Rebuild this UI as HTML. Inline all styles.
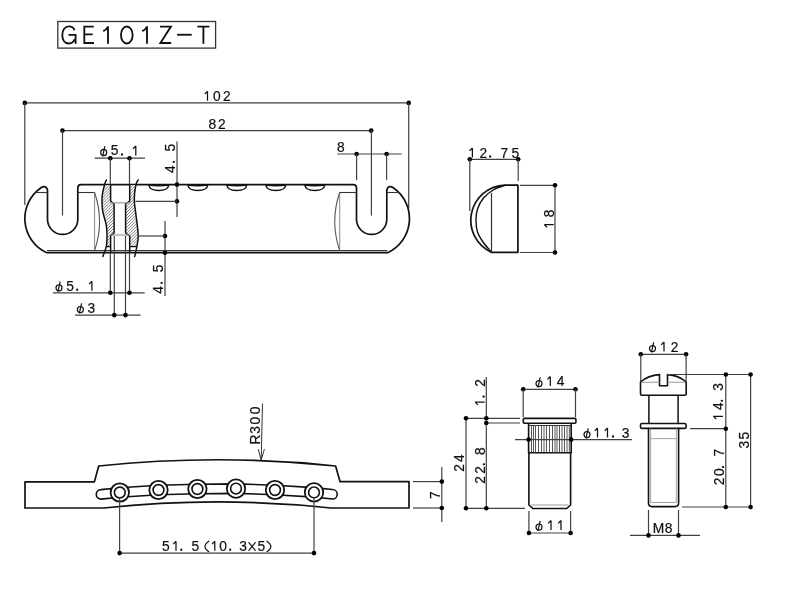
<!DOCTYPE html>
<html><head><meta charset="utf-8"><style>
html,body{margin:0;padding:0;background:#fff;}
svg{display:block;will-change:transform;}
text{stroke:#111;stroke-width:0.2px;}
</style></head><body>
<svg width="800" height="600" viewBox="0 0 800 600">
<rect width="800" height="600" fill="#fff"/>
<g font-family="Liberation Sans" fill="#111">
<rect x="57.8" y="21.5" width="157.8" height="26.6" fill="none" stroke="#333" stroke-width="1.3"/>
<g fill="none" stroke="#111" stroke-width="1.85" stroke-linecap="butt" stroke-linejoin="miter">
<path d="M 74.6 30.3 C 73.6 27.8 71.6 26.4 68.9 26.4 C 64.6 26.4 62.3 30.4 62.3 35.1 C 62.3 39.9 64.7 43.5 68.9 43.5 C 71.8 43.5 73.8 41.6 74.6 39.3"/>
<path d="M 68.5 34.9 L 75.6 34.9 L 75.6 43.8"/>
<path d="M 93.8 26.6 L 84.3 26.6 L 84.3 43.0 L 94.0 43.0 M 84.3 34.3 L 92.6 34.3"/>
<path d="M 108.0 26.2 L 108.0 43.8 M 108.0 26.6 C 106.9 29.0 105.3 30.3 103.2 31.2"/>
<ellipse cx="126.8" cy="34.95" rx="5.85" ry="8.5"/>
<path d="M 147.0 26.2 L 147.0 43.8 M 147.0 26.6 C 145.9 29.0 144.3 30.3 142.2 31.2"/>
<path d="M 160.0 26.6 L 170.9 26.6 L 160.4 43.0 L 171.2 43.0"/>
<path d="M 177.1 34.75 L 191.75 34.75"/>
<path d="M 197.4 26.6 L 209.4 26.6 M 203.4 26.6 L 203.4 43.8"/>
</g>
<line x1="24.8" y1="102.9" x2="408.7" y2="102.9" stroke="#404040" stroke-width="1.2"/>
<circle cx="24.8" cy="102.9" r="2.3" fill="#000"/>
<circle cx="408.7" cy="102.9" r="2.3" fill="#000"/>
<line x1="24.8" y1="102.9" x2="24.8" y2="205" stroke="#404040" stroke-width="1.2"/>
<line x1="408.7" y1="102.9" x2="408.7" y2="208.5" stroke="#404040" stroke-width="1.2"/>
<g transform="translate(206.50,100.70)"><path d="M 1.0 -9.50 L 1.0 0 M 1.0 -9.50 L -1.8 -6.60" stroke="#111" stroke-width="1.25" fill="none"/></g>
<text transform="translate(213.06,100.70) scale(1.0,1)" font-size="13.8">0</text>
<text transform="translate(223.06,100.70) scale(1.0,1)" font-size="13.8">2</text>
<line x1="62.5" y1="130.6" x2="371.2" y2="130.6" stroke="#404040" stroke-width="1.2"/>
<circle cx="62.5" cy="130.6" r="2.3" fill="#000"/>
<circle cx="371.2" cy="130.6" r="2.3" fill="#000"/>
<line x1="62.5" y1="130.6" x2="62.5" y2="215.5" stroke="#404040" stroke-width="1.2"/>
<line x1="371.4" y1="130.6" x2="371.4" y2="215.5" stroke="#404040" stroke-width="1.2"/>
<text transform="translate(208.46,128.75) scale(1.0,1)" font-size="13.8">8</text>
<text transform="translate(218.06,128.75) scale(1.0,1)" font-size="13.8">2</text>
<path d="M 217.15 252.7 L 46.7 252.7 A 37.5 37.5 0 0 1 41.0 187.8 C 43.3 186.2 46.3 185.6 47.5 190 L 47.5 219.3 A 15.15 15.15 0 0 0 77.8 219.3 L 77.8 188 Q 77.8 184.6 81.2 184.6 L 353.1 184.6 Q 356.5 184.6 356.5 188 L 356.5 219.3 A 15.15 15.15 0 0 0 386.8 219.3 L 386.8 190 C 388.0 185.6 391.0 186.2 393.3 187.8 A 37.5 37.5 0 0 1 387.6 252.7 Z" stroke="#111" stroke-width="1.7" fill="none" stroke-linejoin="round" stroke-linecap="round" />
<line x1="47" y1="250.6" x2="387.3" y2="250.6" stroke="#222" stroke-width="1.0"/>
<line x1="35.5" y1="192.5" x2="47.5" y2="192.5" stroke="#333" stroke-width="1.1"/>
<line x1="77.8" y1="192.5" x2="94.6" y2="192.5" stroke="#333" stroke-width="1.1"/>
<line x1="339.7" y1="192.5" x2="356.5" y2="192.5" stroke="#333" stroke-width="1.1"/>
<line x1="386.8" y1="192.5" x2="398.8" y2="192.5" stroke="#333" stroke-width="1.1"/>
<line x1="94.6" y1="192.5" x2="94.6" y2="250.6" stroke="#888" stroke-width="1.0"/>
<path d="M 94.6 192.5 Q 104.5 221.5 94.6 250.6" stroke="#555" stroke-width="1.1" fill="none" stroke-linejoin="round" stroke-linecap="round" />
<line x1="339.7" y1="192.5" x2="339.7" y2="250.6" stroke="#888" stroke-width="1.0"/>
<path d="M 339.7 192.5 Q 329.8 221.5 339.7 250.6" stroke="#555" stroke-width="1.1" fill="none" stroke-linejoin="round" stroke-linecap="round" />
<path d="M 148.8 185.0 Q 158.8 186.4 168.8 185.0 C 168.3 188.8 164.8 190.5 158.8 190.5 C 152.8 190.5 149.3 188.8 148.8 185.0 Z" stroke="#111" stroke-width="1.4" fill="none" stroke-linejoin="round" stroke-linecap="round" />
<path d="M 187.8 185.0 Q 197.8 186.4 207.8 185.0 C 207.3 188.8 203.8 190.5 197.8 190.5 C 191.8 190.5 188.3 188.8 187.8 185.0 Z" stroke="#111" stroke-width="1.4" fill="none" stroke-linejoin="round" stroke-linecap="round" />
<path d="M 226.8 185.0 Q 236.8 186.4 246.8 185.0 C 246.3 188.8 242.8 190.5 236.8 190.5 C 230.8 190.5 227.3 188.8 226.8 185.0 Z" stroke="#111" stroke-width="1.4" fill="none" stroke-linejoin="round" stroke-linecap="round" />
<path d="M 265.8 185.0 Q 275.8 186.4 285.8 185.0 C 285.3 188.8 281.8 190.5 275.8 190.5 C 269.8 190.5 266.3 188.8 265.8 185.0 Z" stroke="#111" stroke-width="1.4" fill="none" stroke-linejoin="round" stroke-linecap="round" />
<path d="M 304.8 185.0 Q 314.8 186.4 324.8 185.0 C 324.3 188.8 320.8 190.5 314.8 190.5 C 308.8 190.5 305.3 188.8 304.8 185.0 Z" stroke="#111" stroke-width="1.4" fill="none" stroke-linejoin="round" stroke-linecap="round" />
<defs><pattern id="hp" patternUnits="userSpaceOnUse" width="2.1" height="2.1" patternTransform="rotate(45)"><rect width="2.1" height="2.1" fill="#fff"/><line x1="0" y1="0" x2="0" y2="2.1" stroke="#444" stroke-width="0.95"/></pattern></defs>
<clipPath id="hc"><rect x="90" y="185" width="60" height="61.5"/></clipPath>
<g clip-path="url(#hc)"><path d="M 106.3 180 C 106.00 180.83 105.18 182.33 104.5 185 C 103.82 187.67 102.52 191.75 102.2 196 C 101.88 200.25 101.93 205.73 102.6 210.5 C 103.27 215.27 105.47 220.60 106.2 224.6 C 106.93 228.60 106.98 230.85 107 234.5 C 107.02 238.15 107.00 242.85 106.3 246.5 C 105.60 250.15 103.38 254.75 102.8 256.4 L 110.6 256.4 L 110.6 236 L 114.1 233 L 114.1 204 L 110.6 201.2 L 110.6 180 Z" fill="url(#hp)"/><path d="M 138.2 180 C 137.80 180.83 136.45 181.67 135.8 185 C 135.15 188.33 134.27 195.00 134.3 200 C 134.33 205.00 135.35 209.17 136 215 C 136.65 220.83 138.07 229.67 138.2 235 C 138.33 240.33 137.38 243.43 136.8 247 C 136.22 250.57 135.05 254.83 134.7 256.4 L 129.7 256.4 L 129.7 236 L 125.6 233 L 125.6 204 L 129.7 201.2 L 129.7 180 Z" fill="url(#hp)"/></g>
<path d="M 106.3 180 C 106.00 180.83 105.18 182.33 104.5 185 C 103.82 187.67 102.52 191.75 102.2 196 C 101.88 200.25 101.93 205.73 102.6 210.5 C 103.27 215.27 105.47 220.60 106.2 224.6 C 106.93 228.60 106.98 230.85 107 234.5 C 107.02 238.15 107.00 242.85 106.3 246.5 C 105.60 250.15 103.38 254.75 102.8 256.4" stroke="#111" stroke-width="1.5" fill="none" stroke-linejoin="round" stroke-linecap="round" />
<path d="M 138.2 180 C 137.80 180.83 136.45 181.67 135.8 185 C 135.15 188.33 134.27 195.00 134.3 200 C 134.33 205.00 135.35 209.17 136 215 C 136.65 220.83 138.07 229.67 138.2 235 C 138.33 240.33 137.38 243.43 136.8 247 C 136.22 250.57 135.05 254.83 134.7 256.4" stroke="#111" stroke-width="1.5" fill="none" stroke-linejoin="round" stroke-linecap="round" />
<path d="M 110.6 185 L 110.6 201.2 L 114.1 204 L 114.1 233 L 110.6 236 L 110.6 252.7" stroke="#111" stroke-width="1.5" fill="none" stroke-linejoin="round" stroke-linecap="round" />
<path d="M 129.7 185 L 129.7 201.2 L 125.6 204 L 125.6 233 L 129.7 236 L 129.7 252.7" stroke="#111" stroke-width="1.5" fill="none" stroke-linejoin="round" stroke-linecap="round" />
<line x1="106.5" y1="246.6" x2="110.6" y2="246.6" stroke="#111" stroke-width="1.3"/>
<line x1="129.7" y1="246.6" x2="136.7" y2="246.6" stroke="#111" stroke-width="1.3"/>
<line x1="110.6" y1="202.8" x2="129.7" y2="202.8" stroke="#999" stroke-width="1.2"/>
<line x1="110.6" y1="235" x2="129.7" y2="235" stroke="#999" stroke-width="1.2"/>
<line x1="94.5" y1="158.2" x2="145" y2="158.2" stroke="#404040" stroke-width="1.2"/>
<circle cx="110.3" cy="158.2" r="2.3" fill="#000"/>
<circle cx="129.5" cy="158.2" r="2.3" fill="#000"/>
<line x1="110.3" y1="158.2" x2="110.3" y2="184" stroke="#404040" stroke-width="1.2"/>
<line x1="129.5" y1="158.2" x2="129.5" y2="184" stroke="#404040" stroke-width="1.2"/>
<ellipse cx="103.70" cy="152.50" rx="3.0" ry="3.1" fill="none" stroke="#111" stroke-width="1.2"/>
<line x1="104.90" y1="146.20" x2="102.60" y2="156.30" stroke="#111" stroke-width="1.2"/>
<text transform="translate(110.78,155.40) scale(1.0,1)" font-size="13.8">5</text>
<ellipse cx="122.00" cy="154.40" rx="1.05" ry="1.25" fill="#111"/>
<g transform="translate(134.80,155.40)"><path d="M 1.0 -9.50 L 1.0 0 M 1.0 -9.50 L -1.8 -6.60" stroke="#111" stroke-width="1.25" fill="none"/></g>
<line x1="177" y1="141.6" x2="177" y2="217" stroke="#404040" stroke-width="1.2"/>
<circle cx="177" cy="184.6" r="2.3" fill="#000"/>
<circle cx="177" cy="201.3" r="2.3" fill="#000"/>
<line x1="135.5" y1="201.3" x2="177" y2="201.3" stroke="#404040" stroke-width="1.2"/>
<text transform="translate(174.70,169.20) rotate(-90) translate(-3.79,0) scale(1.0,1)" font-size="13.8">4</text>
<ellipse cx="173.70" cy="162.00" rx="1.25" ry="1.05" fill="#111"/>
<text transform="translate(174.70,147.70) rotate(-90) translate(-3.82,0) scale(1.0,1)" font-size="13.8">5</text>
<line x1="165" y1="221" x2="165" y2="296" stroke="#404040" stroke-width="1.2"/>
<circle cx="165" cy="236" r="2.3" fill="#000"/>
<circle cx="165" cy="252.7" r="2.3" fill="#000"/>
<line x1="137.5" y1="236" x2="165" y2="236" stroke="#404040" stroke-width="1.2"/>
<text transform="translate(162.60,290.00) rotate(-90) translate(-3.79,0) scale(1.0,1)" font-size="13.8">4</text>
<ellipse cx="161.60" cy="283.00" rx="1.25" ry="1.05" fill="#111"/>
<text transform="translate(162.60,268.50) rotate(-90) translate(-3.82,0) scale(1.0,1)" font-size="13.8">5</text>
<line x1="110.3" y1="252.7" x2="110.3" y2="292.8" stroke="#404040" stroke-width="1.2"/>
<line x1="129.5" y1="252.7" x2="129.5" y2="292.8" stroke="#404040" stroke-width="1.2"/>
<line x1="53" y1="292.8" x2="144.7" y2="292.8" stroke="#404040" stroke-width="1.2"/>
<circle cx="110.3" cy="292.8" r="2.3" fill="#000"/>
<circle cx="129.5" cy="292.8" r="2.3" fill="#000"/>
<ellipse cx="59.00" cy="287.85" rx="3.0" ry="3.1" fill="none" stroke="#111" stroke-width="1.2"/>
<line x1="60.20" y1="281.55" x2="57.90" y2="291.65" stroke="#111" stroke-width="1.2"/>
<text transform="translate(66.28,290.75) scale(1.0,1)" font-size="13.8">5</text>
<ellipse cx="77.20" cy="289.75" rx="1.05" ry="1.25" fill="#111"/>
<g transform="translate(90.90,290.75)"><path d="M 1.0 -9.50 L 1.0 0 M 1.0 -9.50 L -1.8 -6.60" stroke="#111" stroke-width="1.25" fill="none"/></g>
<line x1="114.3" y1="236" x2="114.3" y2="315.1" stroke="#404040" stroke-width="1.2"/>
<line x1="125.5" y1="236" x2="125.5" y2="315.1" stroke="#404040" stroke-width="1.2"/>
<line x1="75" y1="315.1" x2="140.6" y2="315.1" stroke="#404040" stroke-width="1.2"/>
<circle cx="114.3" cy="315.1" r="2.3" fill="#000"/>
<circle cx="125.5" cy="315.1" r="2.3" fill="#000"/>
<ellipse cx="80.40" cy="309.60" rx="3.0" ry="3.1" fill="none" stroke="#111" stroke-width="1.2"/>
<line x1="81.60" y1="303.30" x2="79.30" y2="313.40" stroke="#111" stroke-width="1.2"/>
<text transform="translate(87.60,312.50) scale(1.0,1)" font-size="13.8">3</text>
<line x1="337.2" y1="154" x2="401.7" y2="154" stroke="#404040" stroke-width="1.2"/>
<circle cx="356.6" cy="154" r="2.3" fill="#000"/>
<circle cx="386.6" cy="154" r="2.3" fill="#000"/>
<line x1="356.6" y1="154" x2="356.6" y2="180" stroke="#404040" stroke-width="1.2"/>
<line x1="386.6" y1="154" x2="386.6" y2="180" stroke="#404040" stroke-width="1.2"/>
<text transform="translate(336.96,151.70) scale(1.0,1)" font-size="13.8">8</text>
<line x1="469.8" y1="159.3" x2="518.2" y2="159.3" stroke="#404040" stroke-width="1.2"/>
<circle cx="469.8" cy="159.3" r="2.3" fill="#000"/>
<circle cx="518.2" cy="159.3" r="2.3" fill="#000"/>
<line x1="469.8" y1="159.3" x2="469.8" y2="211" stroke="#404040" stroke-width="1.2"/>
<line x1="518.2" y1="159.3" x2="518.2" y2="181" stroke="#404040" stroke-width="1.2"/>
<g transform="translate(471.40,157.50)"><path d="M 1.0 -9.50 L 1.0 0 M 1.0 -9.50 L -1.8 -6.60" stroke="#111" stroke-width="1.25" fill="none"/></g>
<text transform="translate(479.56,157.50) scale(1.0,1)" font-size="13.8">2</text>
<ellipse cx="490.20" cy="156.50" rx="1.05" ry="1.25" fill="#111"/>
<text transform="translate(500.46,157.50) scale(1.0,1)" font-size="13.8">7</text>
<text transform="translate(511.38,157.50) scale(1.0,1)" font-size="13.8">5</text>
<path d="M 505 185.1 L 517.9 185.1 L 517.9 252.4 L 491.6 252.4 A 35.2 35.2 0 0 1 505 185.1 Z" stroke="#111" stroke-width="1.7" fill="none" stroke-linejoin="round" stroke-linecap="round" />
<path d="M 505 185.3 C 503.17 186.00 497.58 187.38 494 189.5 C 490.42 191.62 486.25 194.75 483.5 198 C 480.75 201.25 478.75 205.33 477.5 209 C 476.25 212.67 476.00 216.17 476 220 C 476.00 223.83 476.33 228.33 477.5 232 C 478.67 235.67 480.65 238.60 483 242 C 485.35 245.40 490.17 250.67 491.6 252.4" stroke="#111" stroke-width="1.4" fill="none" stroke-linejoin="round" stroke-linecap="round" />
<line x1="491.5" y1="193" x2="491.5" y2="252.5" stroke="#333" stroke-width="1.2"/>
<line x1="520" y1="185.3" x2="555" y2="185.3" stroke="#404040" stroke-width="1.2"/>
<line x1="520" y1="252.5" x2="555" y2="252.5" stroke="#404040" stroke-width="1.2"/>
<line x1="555" y1="185.3" x2="555" y2="252.5" stroke="#404040" stroke-width="1.2"/>
<circle cx="555" cy="185.3" r="2.3" fill="#000"/>
<circle cx="555" cy="252.5" r="2.3" fill="#000"/>
<g transform="translate(553.70,225.50) rotate(-90)"><path d="M 1.0 -9.50 L 1.0 0 M 1.0 -9.50 L -1.8 -6.60" stroke="#111" stroke-width="1.25" fill="none"/></g>
<text transform="translate(553.70,213.30) rotate(-90) translate(-3.84,0) scale(1.0,1)" font-size="13.8">8</text>
<path d="M 25 481.9 L 94.4 481.9 L 98.7 466.0 A 1131 1131 0 0 1 335.6 466.0 L 340 481.6 L 409 481.6 L 409 508 L 331 508 A 1070 1070 0 0 0 103.7 508 L 25 508 Z" stroke="#111" stroke-width="1.7" fill="none" stroke-linejoin="round" stroke-linecap="round" />
<path d="M 101 489.65 L 119.8 487.75 L 158.5 485.25 L 197.4 484.25 L 236 483.85 L 275 485.25 L 314 487.65 L 332.5 489.55 A 4.75 4.75 0 0 1 332.5 499.05 L 314 497.15 L 275 494.75 L 236 493.35 L 197.4 493.75 L 158.5 494.75 L 119.8 497.25 L 101 499.15 A 4.75 4.75 0 0 1 101 489.65 Z" stroke="#111" stroke-width="1.6" fill="#fff" stroke-linejoin="round" stroke-linecap="round" />
<circle cx="119.8" cy="492.5" r="9.2" fill="#fff" stroke="#111" stroke-width="1.8"/>
<circle cx="119.8" cy="492.5" r="5.4" fill="none" stroke="#111" stroke-width="1.6"/>
<circle cx="158.5" cy="490" r="9.2" fill="#fff" stroke="#111" stroke-width="1.8"/>
<circle cx="158.5" cy="490" r="5.4" fill="none" stroke="#111" stroke-width="1.6"/>
<circle cx="197.4" cy="489" r="9.2" fill="#fff" stroke="#111" stroke-width="1.8"/>
<circle cx="197.4" cy="489" r="5.4" fill="none" stroke="#111" stroke-width="1.6"/>
<circle cx="236" cy="488.6" r="9.2" fill="#fff" stroke="#111" stroke-width="1.8"/>
<circle cx="236" cy="488.6" r="5.4" fill="none" stroke="#111" stroke-width="1.6"/>
<circle cx="275" cy="490" r="9.2" fill="#fff" stroke="#111" stroke-width="1.8"/>
<circle cx="275" cy="490" r="5.4" fill="none" stroke="#111" stroke-width="1.6"/>
<circle cx="314" cy="492.4" r="9.2" fill="#fff" stroke="#111" stroke-width="1.8"/>
<circle cx="314" cy="492.4" r="5.4" fill="none" stroke="#111" stroke-width="1.6"/>
<line x1="262.5" y1="403.5" x2="261.2" y2="460" stroke="#333" stroke-width="1.0"/>
<path d="M 258.3 449.5 L 261.2 460 L 264.3 449.5" stroke="#333" stroke-width="1.0" fill="none" stroke-linejoin="round" stroke-linecap="round" />
<text transform="translate(259.90,439.30) rotate(-90) translate(-5.23,0) scale(1.0,1)" font-size="13.8">R</text>
<text transform="translate(259.90,430.00) rotate(-90) translate(-3.80,0) scale(1.0,1)" font-size="13.8">3</text>
<text transform="translate(259.90,420.60) rotate(-90) translate(-3.84,0) scale(1.0,1)" font-size="13.8">0</text>
<text transform="translate(259.90,410.40) rotate(-90) translate(-3.84,0) scale(1.0,1)" font-size="13.8">0</text>
<line x1="413" y1="481.6" x2="442" y2="481.6" stroke="#404040" stroke-width="1.2"/>
<line x1="413" y1="508" x2="442" y2="508" stroke="#404040" stroke-width="1.2"/>
<line x1="441.8" y1="467" x2="441.8" y2="522" stroke="#404040" stroke-width="1.2"/>
<circle cx="441.8" cy="481.6" r="2.3" fill="#000"/>
<circle cx="441.8" cy="508" r="2.3" fill="#000"/>
<text transform="translate(439.75,495.10) rotate(-90) translate(-3.84,0) scale(1.0,1)" font-size="13.8">7</text>
<line x1="119.6" y1="497.5" x2="119.6" y2="553.1" stroke="#404040" stroke-width="1.2"/>
<line x1="314" y1="497.5" x2="314" y2="553.1" stroke="#404040" stroke-width="1.2"/>
<line x1="119.6" y1="553.1" x2="314" y2="553.1" stroke="#404040" stroke-width="1.2"/>
<circle cx="119.6" cy="553.1" r="2.3" fill="#000"/>
<circle cx="314" cy="553.1" r="2.3" fill="#000"/>
<path d="M 208.8 541.2 C 205.8 543.5 204.9 545 204.9 546.4 C 204.9 547.8 205.8 549.4 208.8 551.7" stroke="#111" stroke-width="1.2" fill="none" stroke-linejoin="round" stroke-linecap="round" />
<path d="M 267.0 541.2 C 270.0 543.5 270.9 545 270.9 546.4 C 270.9 547.8 270.0 549.4 267.0 551.7" stroke="#111" stroke-width="1.2" fill="none" stroke-linejoin="round" stroke-linecap="round" />
<path d="M 248.9 542.6 L 255.3 550.3 M 255.3 542.6 L 248.9 550.3" stroke="#111" stroke-width="1.2" fill="none" stroke-linejoin="round" stroke-linecap="round" />
<text transform="translate(161.88,550.75) scale(1.0,1)" font-size="13.8">5</text>
<g transform="translate(175.00,550.75)"><path d="M 1.0 -9.50 L 1.0 0 M 1.0 -9.50 L -1.8 -6.60" stroke="#111" stroke-width="1.25" fill="none"/></g>
<ellipse cx="181.30" cy="549.75" rx="1.05" ry="1.25" fill="#111"/>
<text transform="translate(191.48,550.75) scale(1.0,1)" font-size="13.8">5</text>
<g transform="translate(213.80,550.75)"><path d="M 1.0 -9.50 L 1.0 0 M 1.0 -9.50 L -1.8 -6.60" stroke="#111" stroke-width="1.25" fill="none"/></g>
<text transform="translate(219.16,550.75) scale(1.0,1)" font-size="13.8">0</text>
<ellipse cx="230.20" cy="549.75" rx="1.05" ry="1.25" fill="#111"/>
<text transform="translate(239.20,550.75) scale(1.0,1)" font-size="13.8">3</text>
<text transform="translate(257.38,550.75) scale(1.0,1)" font-size="13.8">5</text>
<line x1="486.3" y1="377" x2="486.3" y2="508.3" stroke="#404040" stroke-width="1.2"/>
<line x1="466" y1="418.3" x2="466" y2="508.3" stroke="#404040" stroke-width="1.2"/>
<line x1="466" y1="418.3" x2="520" y2="418.3" stroke="#404040" stroke-width="1.2"/>
<line x1="486.3" y1="423" x2="520" y2="423" stroke="#404040" stroke-width="1.2"/>
<line x1="466" y1="508.3" x2="525" y2="508.3" stroke="#404040" stroke-width="1.2"/>
<circle cx="466" cy="418.3" r="2.3" fill="#000"/>
<circle cx="486.3" cy="418.3" r="2.3" fill="#000"/>
<circle cx="486.3" cy="423" r="2.3" fill="#000"/>
<circle cx="466" cy="508.3" r="2.3" fill="#000"/>
<circle cx="486.3" cy="508.3" r="2.3" fill="#000"/>
<g transform="translate(484.60,403.10) rotate(-90)"><path d="M 1.0 -9.50 L 1.0 0 M 1.0 -9.50 L -1.8 -6.60" stroke="#111" stroke-width="1.25" fill="none"/></g>
<ellipse cx="483.60" cy="396.60" rx="1.25" ry="1.05" fill="#111"/>
<text transform="translate(484.60,383.00) rotate(-90) translate(-3.84,0) scale(1.0,1)" font-size="13.8">2</text>
<text transform="translate(464.20,458.10) rotate(-90) translate(-3.79,0) scale(1.0,1)" font-size="13.8">4</text>
<text transform="translate(464.20,468.00) rotate(-90) translate(-3.84,0) scale(1.0,1)" font-size="13.8">2</text>
<text transform="translate(484.90,451.20) rotate(-90) translate(-3.84,0) scale(1.0,1)" font-size="13.8">8</text>
<ellipse cx="483.90" cy="464.30" rx="1.25" ry="1.05" fill="#111"/>
<text transform="translate(484.90,470.00) rotate(-90) translate(-3.84,0) scale(1.0,1)" font-size="13.8">2</text>
<text transform="translate(484.90,479.90) rotate(-90) translate(-3.84,0) scale(1.0,1)" font-size="13.8">2</text>
<line x1="523.2" y1="389.3" x2="575.5" y2="389.3" stroke="#404040" stroke-width="1.2"/>
<circle cx="523.2" cy="389.3" r="2.3" fill="#000"/>
<circle cx="575.5" cy="389.3" r="2.3" fill="#000"/>
<line x1="523.2" y1="389.3" x2="523.2" y2="417" stroke="#404040" stroke-width="1.2"/>
<line x1="575.5" y1="389.3" x2="575.5" y2="417" stroke="#404040" stroke-width="1.2"/>
<ellipse cx="539.00" cy="383.60" rx="3.0" ry="3.1" fill="none" stroke="#111" stroke-width="1.2"/>
<line x1="540.20" y1="377.30" x2="537.90" y2="387.40" stroke="#111" stroke-width="1.2"/>
<g transform="translate(549.30,386.00)"><path d="M 1.0 -9.50 L 1.0 0 M 1.0 -9.50 L -1.8 -6.60" stroke="#111" stroke-width="1.25" fill="none"/></g>
<text transform="translate(556.71,386.00) scale(1.0,1)" font-size="13.8">4</text>
<rect x="523.3" y="418.4" width="52.6" height="4.8" rx="1" fill="#fff" stroke="#111" stroke-width="1.6"/>
<path d="M 528.6 424.0 L 528.6 452.8 L 571.2 452.8 L 571.2 424.0" stroke="#111" stroke-width="1.6" fill="none" stroke-linejoin="round" stroke-linecap="round" />
<line x1="528.6" y1="425.5" x2="571.2" y2="425.5" stroke="#333" stroke-width="1.2"/>
<line x1="531.5" y1="425.5" x2="531.5" y2="452.6" stroke="#444" stroke-width="0.9"/>
<line x1="533.5" y1="425.5" x2="533.5" y2="452.6" stroke="#444" stroke-width="0.9"/>
<line x1="535.5" y1="425.5" x2="535.5" y2="452.6" stroke="#444" stroke-width="0.9"/>
<line x1="538.5" y1="425.5" x2="538.5" y2="452.6" stroke="#444" stroke-width="0.9"/>
<line x1="541.5" y1="425.5" x2="541.5" y2="452.6" stroke="#444" stroke-width="0.9"/>
<line x1="544" y1="425.5" x2="544" y2="452.6" stroke="#444" stroke-width="0.9"/>
<line x1="546.5" y1="425.5" x2="546.5" y2="452.6" stroke="#444" stroke-width="0.9"/>
<line x1="549.5" y1="425.5" x2="549.5" y2="452.6" stroke="#444" stroke-width="0.9"/>
<line x1="552.5" y1="425.5" x2="552.5" y2="452.6" stroke="#444" stroke-width="0.9"/>
<line x1="555" y1="425.5" x2="555" y2="452.6" stroke="#444" stroke-width="0.9"/>
<line x1="557" y1="425.5" x2="557" y2="452.6" stroke="#444" stroke-width="0.9"/>
<line x1="559.5" y1="425.5" x2="559.5" y2="452.6" stroke="#444" stroke-width="0.9"/>
<line x1="562" y1="425.5" x2="562" y2="452.6" stroke="#444" stroke-width="0.9"/>
<line x1="564.5" y1="425.5" x2="564.5" y2="452.6" stroke="#444" stroke-width="0.9"/>
<line x1="567" y1="425.5" x2="567" y2="452.6" stroke="#444" stroke-width="0.9"/>
<line x1="569.3" y1="425.5" x2="569.3" y2="452.6" stroke="#444" stroke-width="0.9"/>
<path d="M 528.9 452.8 L 528.9 505 L 532.8 508.5 L 566.7 508.5 L 570.6 505 L 570.6 452.8" stroke="#111" stroke-width="1.6" fill="none" stroke-linejoin="round" stroke-linecap="round" />
<line x1="531" y1="505" x2="568.5" y2="505" stroke="#999" stroke-width="1.0"/>
<line x1="515" y1="439.6" x2="632" y2="439.6" stroke="#404040" stroke-width="1.2"/>
<circle cx="528.6" cy="439.6" r="2.3" fill="#000"/>
<circle cx="571.2" cy="439.6" r="2.3" fill="#000"/>
<ellipse cx="587.00" cy="434.60" rx="3.0" ry="3.1" fill="none" stroke="#111" stroke-width="1.2"/>
<line x1="588.20" y1="428.30" x2="585.90" y2="438.40" stroke="#111" stroke-width="1.2"/>
<g transform="translate(596.50,437.50)"><path d="M 1.0 -9.50 L 1.0 0 M 1.0 -9.50 L -1.8 -6.60" stroke="#111" stroke-width="1.25" fill="none"/></g>
<g transform="translate(606.50,437.50)"><path d="M 1.0 -9.50 L 1.0 0 M 1.0 -9.50 L -1.8 -6.60" stroke="#111" stroke-width="1.25" fill="none"/></g>
<ellipse cx="613.00" cy="436.50" rx="1.05" ry="1.25" fill="#111"/>
<text transform="translate(621.70,437.50) scale(1.0,1)" font-size="13.8">3</text>
<line x1="528.9" y1="511" x2="528.9" y2="533" stroke="#404040" stroke-width="1.2"/>
<line x1="570.6" y1="511" x2="570.6" y2="533" stroke="#404040" stroke-width="1.2"/>
<line x1="528.9" y1="533" x2="570.6" y2="533" stroke="#404040" stroke-width="1.2"/>
<circle cx="528.9" cy="533" r="2.3" fill="#000"/>
<circle cx="570.6" cy="533" r="2.3" fill="#000"/>
<ellipse cx="539.00" cy="527.10" rx="3.0" ry="3.1" fill="none" stroke="#111" stroke-width="1.2"/>
<line x1="540.20" y1="520.80" x2="537.90" y2="530.90" stroke="#111" stroke-width="1.2"/>
<g transform="translate(550.00,530.00)"><path d="M 1.0 -9.50 L 1.0 0 M 1.0 -9.50 L -1.8 -6.60" stroke="#111" stroke-width="1.25" fill="none"/></g>
<g transform="translate(560.00,530.00)"><path d="M 1.0 -9.50 L 1.0 0 M 1.0 -9.50 L -1.8 -6.60" stroke="#111" stroke-width="1.25" fill="none"/></g>
<line x1="640.8" y1="354.3" x2="686.1" y2="354.3" stroke="#404040" stroke-width="1.2"/>
<circle cx="640.8" cy="354.3" r="2.3" fill="#000"/>
<circle cx="686.1" cy="354.3" r="2.3" fill="#000"/>
<line x1="640.8" y1="354.3" x2="640.8" y2="381" stroke="#404040" stroke-width="1.2"/>
<line x1="686.1" y1="354.3" x2="686.1" y2="381" stroke="#404040" stroke-width="1.2"/>
<ellipse cx="652.50" cy="348.60" rx="3.0" ry="3.1" fill="none" stroke="#111" stroke-width="1.2"/>
<line x1="653.70" y1="342.30" x2="651.40" y2="352.40" stroke="#111" stroke-width="1.2"/>
<g transform="translate(663.00,351.50)"><path d="M 1.0 -9.50 L 1.0 0 M 1.0 -9.50 L -1.8 -6.60" stroke="#111" stroke-width="1.25" fill="none"/></g>
<text transform="translate(670.66,351.50) scale(1.0,1)" font-size="13.8">2</text>
<path d="M 640.5 382 Q 648 375.5 659.5 374.6 L 659.5 385.8 L 667.5 385.8 L 667.5 374.6 Q 679 375.5 686.2 382 L 686.2 393.5 Q 686.2 395.2 684.5 395.2 L 642.2 395.2 Q 640.5 395.2 640.5 393.5 Z" stroke="#111" stroke-width="1.6" fill="none" stroke-linejoin="round" stroke-linecap="round" />
<line x1="642" y1="382.3" x2="659.5" y2="382.3" stroke="#999" stroke-width="1.0"/>
<line x1="667.5" y1="382.3" x2="685" y2="382.3" stroke="#999" stroke-width="1.0"/>
<line x1="648.9" y1="395.2" x2="648.9" y2="423.5" stroke="#111" stroke-width="1.5"/>
<line x1="678.1" y1="395.2" x2="678.1" y2="423.5" stroke="#111" stroke-width="1.5"/>
<rect x="640.5" y="423.5" width="45.6" height="4.9" rx="1.5" fill="#fff" stroke="#111" stroke-width="1.6"/>
<path d="M 648.5 428.4 L 648.5 503 Q 648.5 506.6 652 506.6 L 675 506.6 Q 678.6 506.6 678.6 503 L 678.6 428.4" stroke="#111" stroke-width="1.6" fill="none" stroke-linejoin="round" stroke-linecap="round" />
<line x1="650.6" y1="428.5" x2="650.6" y2="502.5" stroke="#999" stroke-width="0.9"/>
<line x1="676.3" y1="428.5" x2="676.3" y2="502.5" stroke="#999" stroke-width="0.9"/>
<line x1="650.6" y1="438.6" x2="676.3" y2="438.6" stroke="#999" stroke-width="0.9"/>
<line x1="650.6" y1="502.5" x2="676.3" y2="502.5" stroke="#999" stroke-width="0.9"/>
<line x1="648.5" y1="510" x2="648.5" y2="535.4" stroke="#404040" stroke-width="1.2"/>
<line x1="678.5" y1="510" x2="678.5" y2="535.4" stroke="#404040" stroke-width="1.2"/>
<line x1="630" y1="535.4" x2="700" y2="535.4" stroke="#404040" stroke-width="1.2"/>
<circle cx="648.5" cy="535.4" r="2.3" fill="#000"/>
<circle cx="678.5" cy="535.4" r="2.3" fill="#000"/>
<text transform="translate(652.75,533.00) scale(1.0,1)" font-size="13.8">M</text>
<text transform="translate(664.86,533.00) scale(1.0,1)" font-size="13.8">8</text>
<line x1="667.5" y1="374.5" x2="750.6" y2="374.5" stroke="#404040" stroke-width="1.2"/>
<line x1="690" y1="428.7" x2="726" y2="428.7" stroke="#404040" stroke-width="1.2"/>
<line x1="682" y1="507" x2="750.6" y2="507" stroke="#404040" stroke-width="1.2"/>
<line x1="725.8" y1="374.5" x2="725.8" y2="507" stroke="#404040" stroke-width="1.2"/>
<line x1="750.6" y1="374.5" x2="750.6" y2="507" stroke="#404040" stroke-width="1.2"/>
<circle cx="725.8" cy="374.5" r="2.3" fill="#000"/>
<circle cx="725.8" cy="428.7" r="2.3" fill="#000"/>
<circle cx="725.8" cy="507" r="2.3" fill="#000"/>
<circle cx="750.6" cy="374.5" r="2.3" fill="#000"/>
<circle cx="750.6" cy="507" r="2.3" fill="#000"/>
<g transform="translate(722.90,417.30) rotate(-90)"><path d="M 1.0 -9.50 L 1.0 0 M 1.0 -9.50 L -1.8 -6.60" stroke="#111" stroke-width="1.25" fill="none"/></g>
<text transform="translate(722.90,406.20) rotate(-90) translate(-3.79,0) scale(1.0,1)" font-size="13.8">4</text>
<ellipse cx="721.90" cy="400.70" rx="1.25" ry="1.05" fill="#111"/>
<text transform="translate(722.90,386.90) rotate(-90) translate(-3.80,0) scale(1.0,1)" font-size="13.8">3</text>
<text transform="translate(724.00,481.50) rotate(-90) translate(-3.84,0) scale(1.0,1)" font-size="13.8">2</text>
<text transform="translate(724.00,472.20) rotate(-90) translate(-3.84,0) scale(1.0,1)" font-size="13.8">0</text>
<ellipse cx="723.00" cy="467.00" rx="1.25" ry="1.05" fill="#111"/>
<text transform="translate(724.00,452.70) rotate(-90) translate(-3.84,0) scale(1.0,1)" font-size="13.8">7</text>
<text transform="translate(749.00,444.70) rotate(-90) translate(-3.80,0) scale(1.0,1)" font-size="13.8">3</text>
<text transform="translate(749.00,435.60) rotate(-90) translate(-3.82,0) scale(1.0,1)" font-size="13.8">5</text>
</g>
</svg>
</body></html>
